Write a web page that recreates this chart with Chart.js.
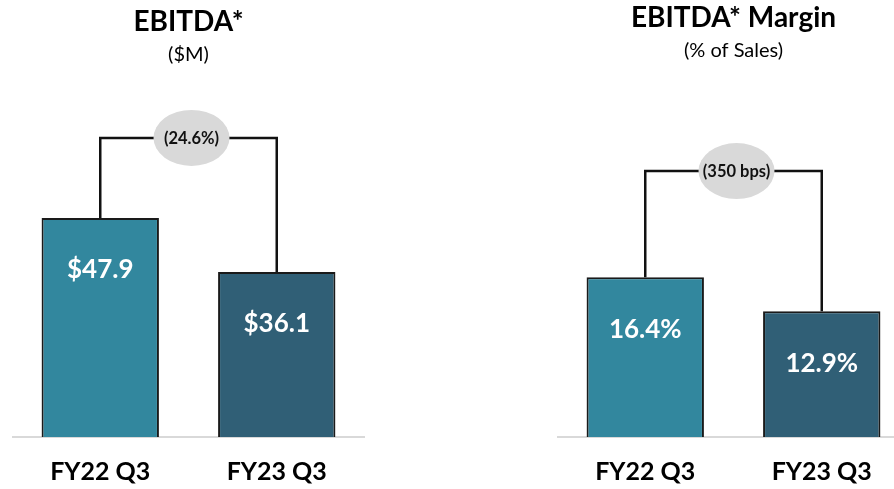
<!DOCTYPE html>
<html>
<head>
<meta charset="utf-8">
<script src="https://cdn.jsdelivr.net/npm/chart.js@4.4.0/dist/chart.umd.min.js"></script>
<style>
    html, body { margin: 0; padding: 0; width: 894px; height: 489px; overflow: hidden; background: #fff; }
    .box { position: absolute; top: 0; height: 507px; width: 353px; }
    #left { left: 12px; }
    #right { left: 557px; }
</style>
</head>
<body>
<div class="box" id="left"><canvas id="ebitda"></canvas></div>
<div class="box" id="right"><canvas id="margin"></canvas></div>
<script>
const categories = ['FY22 Q3', 'FY23 Q3'];
const ebitdaValues = [47.9, 36.1];
const ebitdaLabels = ['$47.9', '$36.1'];
const marginValues = [16.4, 12.9];
const marginLabels = ['16.4%', '12.9%'];
const changeLabels = ['(24.6%)', '(350 bps)'];
const bracketLevels = [65.4, 27.3];
const barColors = ['#32879e', '#305f76'];

const FONT = 'Lato, "Open Sans", sans-serif';

// draws the value inside each bar, plus the bracket with the change bubble
function notesPlugin(labels, change, level) {
    return {
        id: 'notes',
        afterDatasetsDraw(chart) {
            const ctx = chart.ctx;
            const bars = chart.getDatasetMeta(0).data;
            ctx.save();

            ctx.fillStyle = '#fff';
            ctx.font = 'bold 26px ' + FONT;
            ctx.textAlign = 'center';
            ctx.textBaseline = 'middle';
            bars.forEach((bar, i) => ctx.fillText(labels[i], bar.x, bar.y + 52));

            const y = chart.scales.y.getPixelForValue(level);
            ctx.strokeStyle = '#111';
            ctx.lineWidth = 2.5;
            ctx.beginPath();
            ctx.moveTo(bars[0].x, bars[0].y);
            ctx.lineTo(bars[0].x, y);
            ctx.lineTo(bars[1].x, y);
            ctx.lineTo(bars[1].x, bars[1].y);
            ctx.stroke();

            const mid = (bars[0].x + bars[1].x) / 2 + 3;
            ctx.fillStyle = '#d9d9d9';
            ctx.beginPath();
            ctx.ellipse(mid, y, 38, 28, 0, 0, Math.PI * 2);
            ctx.fill();

            ctx.fillStyle = '#111';
            ctx.font = 'bold 16.5px ' + FONT;
            ctx.fillText(change, mid, y + 1);
            ctx.restore();
        }
    };
}

function makeChart(id, title, subtitle, values, labels, change, level, yMax, titleTop) {
    return new Chart(document.getElementById(id), {
        type: 'bar',
        data: {
            labels: categories,
            datasets: [{
                data: values,
                backgroundColor: barColors,
                borderColor: '#1a1a1a',
                borderWidth: 2,
                borderSkipped: 'start',
                categoryPercentage: 1,
                barPercentage: 0.665
            }]
        },
        options: {
            responsive: true,
            maintainAspectRatio: false,
            animation: false,
            layout: { padding: 0 },
            plugins: {
                legend: { display: false },
                tooltip: { enabled: false },
                title: {
                    display: true,
                    text: title,
                    color: '#000',
                    font: { family: FONT, size: 28, weight: 'bold' },
                    padding: { top: titleTop, bottom: 4 }
                },
                subtitle: {
                    display: true,
                    text: subtitle,
                    color: '#000',
                    font: { family: FONT, size: 20 },
                    padding: { top: 0, bottom: 10 }
                }
            },
            scales: {
                x: {
                    grid: { display: false, drawTicks: false },
                    border: { display: true, color: '#d9d9d9', width: 2 },
                    ticks: {
                        color: '#000',
                        padding: 20,
                        font: { family: FONT, size: 25, weight: 'bold' }
                    }
                },
                y: {
                    display: false,
                    min: 0,
                    max: yMax
                }
            }
        },
        plugins: [notesPlugin(labels, change, level)]
    });
}

makeChart('ebitda', 'EBITDA*', '($M)', ebitdaValues, ebitdaLabels, changeLabels[0], bracketLevels[0], 78.8, 5);
makeChart('margin', 'EBITDA* Margin', '(% of Sales)', marginValues, marginLabels, changeLabels[1], bracketLevels[1], 37.4, 1);
</script>
</body>
</html>
